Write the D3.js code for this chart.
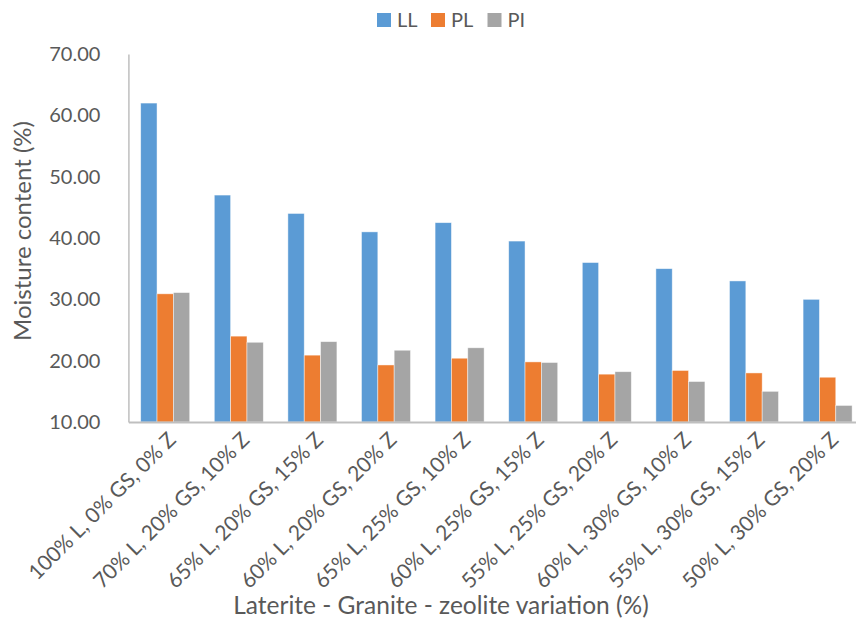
<!DOCTYPE html>
<html>
<head>
<meta charset="utf-8">
<script src="https://cdn.jsdelivr.net/npm/d3@7"></script>
<style>
  html, body { margin: 0; padding: 0; background: #fff; }
  svg { display: block; font-family: Lato, "Open Sans", sans-serif; }
</style>
</head>
<body>
<svg id="chart" width="856" height="640"></svg>
<script>
// Mix designations (laterite / granite sand / zeolite)
const categories = [
  "100% L, 0% GS, 0% Z",
  "70% L, 20% GS, 10% Z",
  "65% L, 20% GS, 15% Z",
  "60% L, 20% GS, 20% Z",
  "65% L, 25% GS, 10% Z",
  "60% L, 25% GS, 15% Z",
  "55% L, 25% GS, 20% Z",
  "60% L, 30% GS, 10% Z",
  "55% L, 30% GS, 15% Z",
  "50% L, 30% GS, 20% Z"
];

// Atterberg limits (moisture content, %)
const seriesNames = ["LL", "PL", "PI"];
const liquidLimit   = [62.0, 47.0, 44.0, 41.0, 42.5, 39.5, 36.0, 35.0, 33.0, 30.0];
const plasticLimit  = [30.9, 24.0, 20.9, 19.3, 20.4, 19.8, 17.8, 18.4, 18.0, 17.3];
const plasticIndex  = [31.1, 23.0, 23.1, 21.7, 22.1, 19.7, 18.2, 16.6, 15.0, 12.7];
const seriesColors  = ["#5B9BD5", "#ED7D31", "#A5A5A5"];

const yTicks = [10, 20, 30, 40, 50, 60, 70];

const seriesValues = [liquidLimit, plasticLimit, plasticIndex];
const rows = categories.map((c, i) => ({
  category: c,
  values: seriesNames.map((s, k) => ({ key: s, value: seriesValues[k][i] }))
}));

const svg = d3.select("#chart");
const textColor = "#595959";
const axisColor = "#BFBFBF";

const plot = { left: 128.4, right: 864.4, top: 54, bottom: 422 };

const x0 = d3.scaleBand()
  .domain(categories)
  .range([plot.left, plot.right])
  .paddingInner(0.334)
  .paddingOuter(0.167);

const x1 = d3.scaleBand()
  .domain(seriesNames)
  .range([0, x0.bandwidth()])
  .padding(0);

const y = d3.scaleLinear()
  .domain([10, 70])
  .range([plot.bottom, plot.top]);

const color = d3.scaleOrdinal().domain(seriesNames).range(seriesColors);

// Bars
const groups = svg.append("g").selectAll("g")
  .data(rows)
  .join("g")
  .attr("transform", d => `translate(${x0(d.category)},0)`);

groups.selectAll("rect")
  .data(d => d.values)
  .join("rect")
  .attr("x", d => x1(d.key))
  .attr("y", d => y(d.value))
  .attr("width", x1.bandwidth())
  .attr("height", d => y(10) - y(d.value))
  .attr("fill", d => color(d.key))
  .attr("stroke", "#ffffff")
  .attr("stroke-opacity", 0.6)
  .attr("stroke-width", 0.75);

// Y axis
const yAxis = d3.axisLeft(y)
  .tickValues(yTicks)
  .tickSize(0)
  .tickPadding(28)
  .tickFormat(d3.format(".2f"));

const yg = svg.append("g")
  .attr("transform", `translate(${plot.left},0)`)
  .call(yAxis);
yg.select(".domain").attr("stroke", axisColor).attr("stroke-width", 1.5);
yg.selectAll("text")
  .attr("fill", textColor)
  .style("font-size", "20px")
  .style("font-family", "Lato, sans-serif");

// X axis with rotated category labels
const xAxis = d3.axisBottom(x0).tickSize(0).tickPadding(0);
const xg = svg.append("g")
  .attr("transform", `translate(0,${plot.bottom})`)
  .call(xAxis);
xg.select(".domain").attr("stroke", axisColor).attr("stroke-width", 2);
xg.selectAll(".tick text")
  .attr("fill", textColor)
  .style("font-size", "21px")
  .style("font-family", "Lato, sans-serif")
  .attr("text-anchor", "end")
  .attr("dy", "0")
  .attr("transform", "translate(12,19) rotate(-45)");

// Axis titles
svg.append("text")
  .attr("transform", `translate(31,231) rotate(-90)`)
  .attr("text-anchor", "middle")
  .attr("fill", textColor)
  .style("font-size", "24px")
  .text("Moisture content (%)");

svg.append("text")
  .attr("x", 441)
  .attr("y", 614)
  .attr("text-anchor", "middle")
  .attr("fill", textColor)
  .style("font-size", "24.5px")
  .text("Laterite - Granite - zeolite variation (%)");

// Legend
const legendX = [377, 431, 487.5];
const legend = svg.append("g").selectAll("g")
  .data(seriesNames)
  .join("g")
  .attr("transform", (d, i) => `translate(${legendX[i]},13)`);

legend.append("rect")
  .attr("width", 14)
  .attr("height", 14)
  .attr("fill", d => color(d));

legend.append("text")
  .attr("x", 20)
  .attr("y", 14)
  .attr("fill", textColor)
  .style("font-size", "20px")
  .text(d => d);
</script>
</body>
</html>
